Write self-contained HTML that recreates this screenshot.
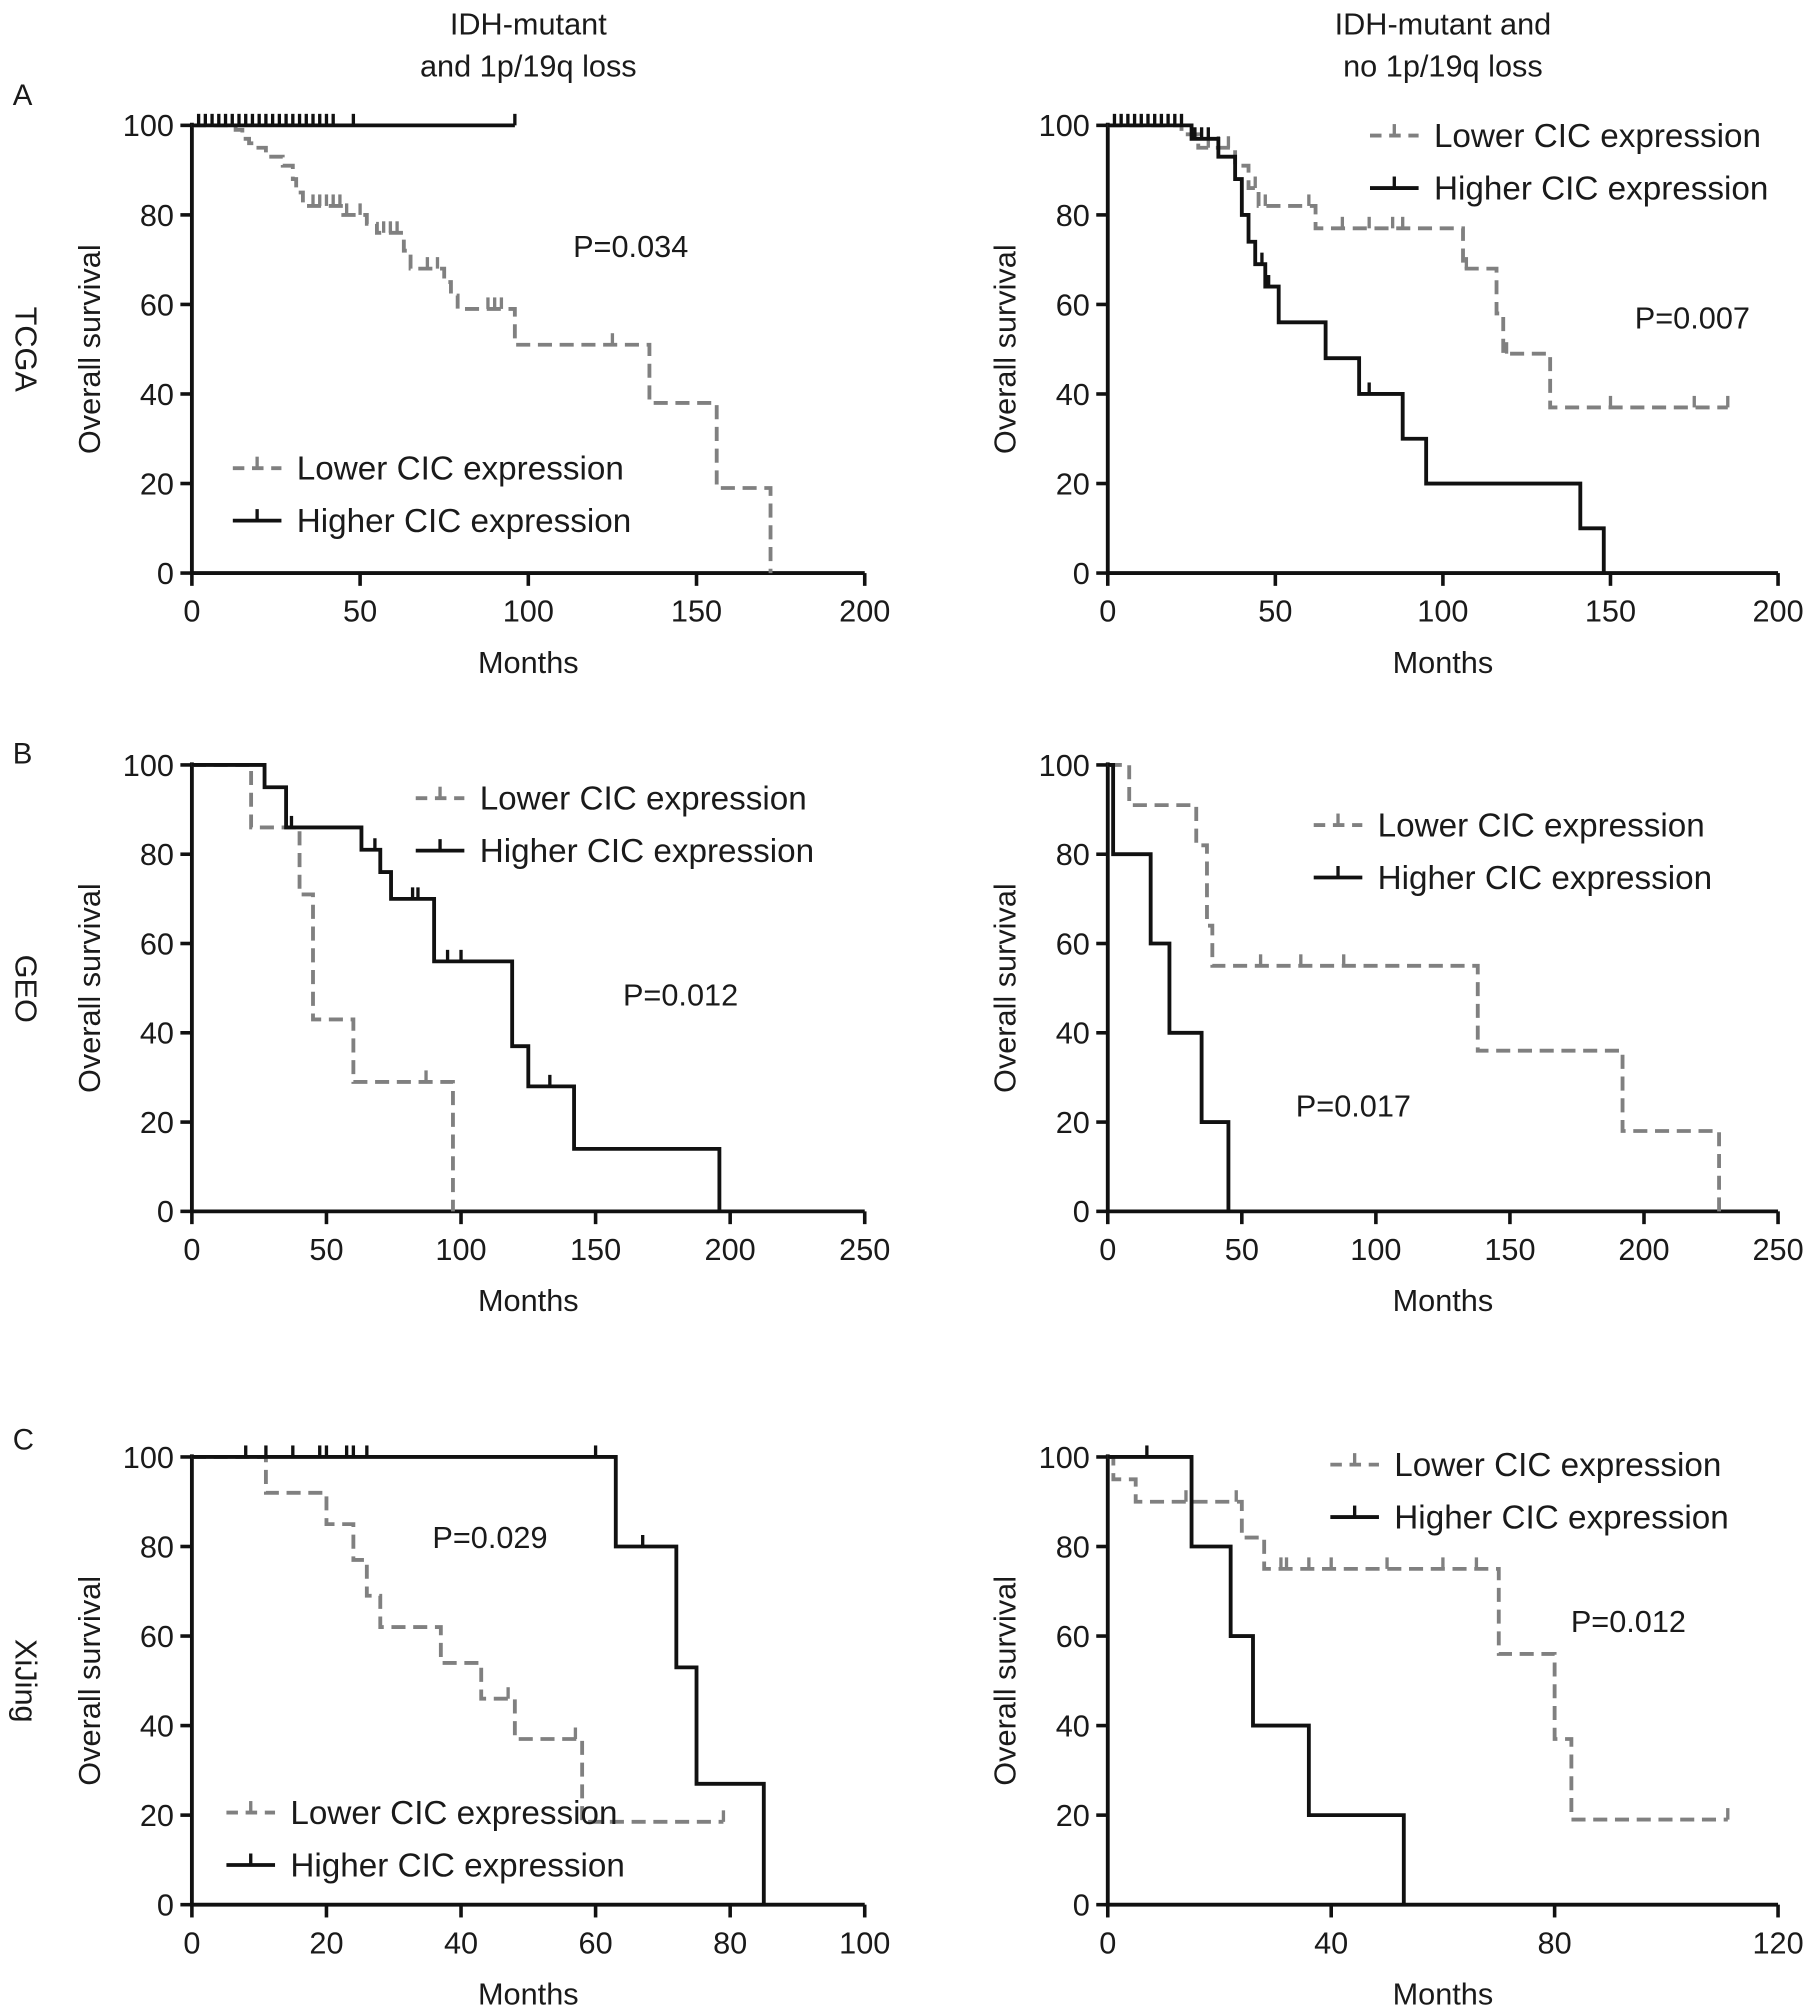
<!DOCTYPE html>
<html><head><meta charset="utf-8"><style>
html,body{margin:0;padding:0;background:#fff}
svg{display:block}
text{font-family:"Liberation Sans",Arial,sans-serif;fill:#1a1a1a}
</style></head>
<body>
<svg id="fig" width="1819" height="2007" viewBox="0 0 1422 1569" xmlns="http://www.w3.org/2000/svg">
<g font-size="24" text-anchor="middle">
<text x="413" y="27">IDH-mutant</text><text x="413" y="60">and 1p/19q loss</text>
<text x="1128" y="27">IDH-mutant and</text><text x="1128" y="60">no 1p/19q loss</text>
</g>
<g font-size="23">
<text x="10" y="82">A</text><text x="10" y="597">B</text><text x="10" y="1133">C</text>
</g>
<g font-size="24" text-anchor="middle">
<text transform="translate(12,273) rotate(90)">TCGA</text>
<text transform="translate(12,773) rotate(90)">GEO</text>
<text transform="translate(12,1314) rotate(90)">XiJing</text>
</g>
</svg>
<script>
const aLowT=[13,15,17,19,22,27,30,31,33,45,52,55,63,65,75,77,79,96,136,156,172];
const aLowS=[99,97,96,95,93,91,88,85,82,80,78,76,72,68,65,62,59,51,38,19,0];
const aLowC=[36,38,40,42,44,46,50,57,59,61,70,73,88,90,92,125];
const aHighT=[];const aHighS=[];
const aHighC=[2,4,6,8,10,12,14,16,18,20,22,24,26,28,30,32,34,36,38,40,42,48,96];
const bLowT=[22,27,38,42,45,62,106,116,118,132];
const bLowS=[98,95,91,86,82,77,68,58,49,37];
const bLowC=[30,33,36,44,47,60,70,78,85,88,107,119,150,175,185];
const bHighT=[25,33,38,40,42,44,47,51,65,75,88,95,141,148];
const bHighS=[97,93,88,80,74,69,64,56,48,40,30,20,10,0];
const bHighC=[2,4,6,8,10,12,14,16,18,20,22,26,28,30,46,48,78];
const cLowT=[22,40,45,60,97];const cLowS=[86,71,43,29,0];const cLowC=[87];
const cHighT=[27,35,63,70,74,90,119,125,142,196];const cHighS=[95,86,81,76,70,56,37,28,14,0];
const cHighC=[37,68,82,84,95,100,133];
const dLowT=[8,33,37,39,138,192,228];const dLowS=[91,82,64,55,36,18,0];const dLowC=[57,72,88];
const dHighT=[2,16,23,35,45];const dHighS=[80,60,40,20,0];const dHighC=[];
const eLowT=[11,20,24,26,28,37,43,48,58];const eLowS=[92,85,77,69,62,54,46,37,18.5];const eLowC=[47,57,79];
const eHighT=[63,72,75,85];const eHighS=[80,53,27,0];const eHighC=[8,11,15,19,20,23,24,26,60,67];
const fLowT=[1,5,24,28,70,80,83];const fLowS=[95,90,82,75,56,37,19];const fLowC=[14,23,31,32,36,40,50,60,66,111];
const fHighT=[15,22,26,36,53];const fHighS=[80,60,40,20,0];const fHighC=[7];
const yTicks=[0,20,40,60,80,100];
const xTicksA=[0,50,100,150,200];const xTicksB=[0,50,100,150,200,250];
const xTicksC=[0,20,40,60,80,100];const xTicksF=[0,40,80,120];

const NS='http://www.w3.org/2000/svg';const svg=document.getElementById('fig');
function mk(tag,attrs,parent){const e=document.createElementNS(NS,tag);for(const k in attrs)e.setAttribute(k,attrs[k]);(parent||svg).appendChild(e);return e;}
const GRAY='#808080';
function panel(name,x0,x1,y0,y1,xmax,xt,curves,leg,pval){
  const g=mk('g',{});
  
  
  const X=v=>x0+(x1-x0)*v/xmax, Y=v=>y0+(y1-y0)*v/100;
  mk('path',{d:`M${x0} ${y1-2}V${y0}H${x1}`,stroke:'#111','stroke-width':3,fill:'none'},g);
  yTicks.forEach(t=>{mk('line',{x1:x0-9,x2:x0,y1:Y(t),y2:Y(t),stroke:'#111','stroke-width':2.8},g);
    const tx=mk('text',{x:x0-14,y:Y(t)+8.5,'font-size':24,'text-anchor':'end'},g);tx.textContent=t;});
  xt.forEach(t=>{mk('line',{x1:X(t),x2:X(t),y1:y0,y2:y0+10,stroke:'#111','stroke-width':2.8},g);
    const tx=mk('text',{x:X(t),y:y0+38,'font-size':24,'text-anchor':'middle'},g);tx.textContent=t;});
  const mt=mk('text',{x:(x0+x1)/2,y:y0+78,'font-size':24,'text-anchor':'middle'},g);mt.textContent='Months';
  
  
  const yt=mk('text',{transform:`translate(${x0-72},${(y0+y1)/2}) rotate(-90)`,'font-size':24,'text-anchor':'middle'},g);yt.textContent='Overall survival';
  
  
  curves.forEach(c=>{
    let d=`M${X(0)} ${Y(100)}`;
    c.t.forEach((t,i)=>{d+=`H${X(t)}V${Y(c.s[i])}`;});
    const end=Math.max(c.end,c.t.length?c.t[c.t.length-1]:0);d+=`H${X(end)}`;
    const p=mk('path',{d,fill:'none',stroke:c.dash?GRAY:'#111','stroke-width':3,'stroke-dasharray':c.dash?'11 6':'none'},g);
    
    
    c.c.forEach(ct=>{let sv=100;c.t.forEach((t,i)=>{if(t<=ct)sv=c.s[i];});
      const m=mk('line',{x1:X(ct),x2:X(ct),y1:Y(sv),y2:Y(sv)-9,stroke:c.dash?GRAY:'#111','stroke-width':2.6},g);
      
      });
  });
  [[true,'Lower CIC expression',0],[false,'Higher CIC expression',41]].forEach(([dash,lab,dy])=>{
    const ly=leg.y+dy;
    const lg=mk('g',{},g);
    
    
    mk('line',{x1:leg.x,x2:leg.x+38,y1:ly,y2:ly,stroke:dash?GRAY:'#111','stroke-width':3,'stroke-dasharray':dash?'9 6':'none'},lg);
    mk('line',{x1:leg.x+19,x2:leg.x+19,y1:ly,y2:ly-9,stroke:dash?GRAY:'#111','stroke-width':2.6},lg);
    const tx=mk('text',{x:leg.x+50,y:ly+9,'font-size':26},lg);tx.textContent=lab;
  });
  const pt=mk('text',{x:pval.x,y:pval.y+9,'font-size':24},g);pt.textContent=pval.t;
  
  
}
panel('tcga-codeleted-plot',150,676,448,98,200,xTicksA,
 [{t:aLowT,s:aLowS,c:aLowC,end:172,dash:true},{t:aHighT,s:aHighS,c:aHighC,end:96,dash:false}],
 {x:182,y:366},{x:448,y:192,t:'P=0.034'});
panel('tcga-noncodeleted-plot',866,1390,448,98,200,xTicksA,
 [{t:bLowT,s:bLowS,c:bLowC,end:185,dash:true},{t:bHighT,s:bHighS,c:bHighC,end:148,dash:false}],
 {x:1071,y:106},{x:1278,y:248,t:'P=0.007'});
panel('geo-codeleted-plot',150,676,947,598,250,xTicksB,
 [{t:cLowT,s:cLowS,c:cLowC,end:97,dash:true},{t:cHighT,s:cHighS,c:cHighC,end:196,dash:false}],
 {x:325,y:624},{x:487,y:777,t:'P=0.012'});
panel('geo-noncodeleted-plot',866,1390,947,598,250,xTicksB,
 [{t:dLowT,s:dLowS,c:dLowC,end:228,dash:true},{t:dHighT,s:dHighS,c:dHighC,end:45,dash:false}],
 {x:1027,y:645},{x:1013,y:864,t:'P=0.017'});
panel('xijing-codeleted-plot',150,676,1489,1139,100,xTicksC,
 [{t:eLowT,s:eLowS,c:eLowC,end:79,dash:true},{t:eHighT,s:eHighS,c:eHighC,end:85,dash:false}],
 {x:177,y:1417},{x:338,y:1201,t:'P=0.029'});
panel('xijing-noncodeleted-plot',866,1390,1489,1139,120,xTicksF,
 [{t:fLowT,s:fLowS,c:fLowC,end:111,dash:true},{t:fHighT,s:fHighS,c:fHighC,end:53,dash:false}],
 {x:1040,y:1145},{x:1228,y:1267,t:'P=0.012'});
</script>
</body></html>
